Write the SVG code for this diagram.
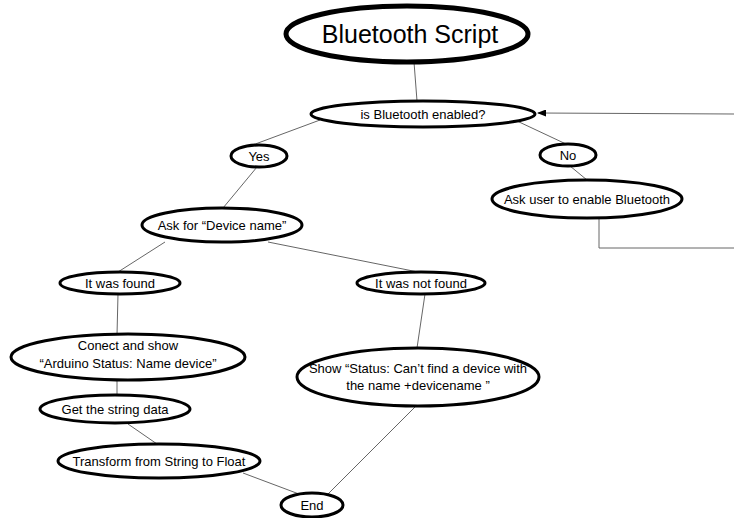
<svg xmlns="http://www.w3.org/2000/svg" width="734" height="518" viewBox="0 0 734 518">
<style>
.n{fill:#fff;stroke:#000;stroke-width:3}
.t{font-family:"Liberation Sans",Arial,sans-serif;font-size:13px;fill:#000;text-anchor:middle}
.c{stroke:#666;stroke-width:1;fill:none}
</style>
<defs>
<marker id="ah" markerWidth="9" markerHeight="7" refX="8" refY="3.5" orient="auto" markerUnits="userSpaceOnUse">
<path d="M0,0 L9,3.5 L0,7 z" fill="#000"/>
</marker>
</defs>
<rect width="734" height="518" fill="#fff"/>
<g id="connectors">
<line class="c" x1="414" y1="62" x2="417" y2="101"/>
<line class="c" x1="320" y1="120" x2="250" y2="146"/>
<line class="c" x1="517" y1="121" x2="566" y2="144"/>
<line class="c" x1="570" y1="166" x2="587" y2="180"/>
<polyline class="c" points="599,218 599,248 734,248"/>
<line class="c" x1="734" y1="114" x2="538" y2="113" marker-end="url(#ah)"/>
<line class="c" x1="257" y1="167" x2="223" y2="208"/>
<line class="c" x1="165" y1="242" x2="118" y2="272"/>
<line class="c" x1="268" y1="242" x2="418" y2="272"/>
<line class="c" x1="118" y1="294" x2="117" y2="335"/>
<line class="c" x1="425" y1="294" x2="417" y2="348"/>
<line class="c" x1="117" y1="380" x2="117" y2="396"/>
<line class="c" x1="128" y1="424" x2="157" y2="444"/>
<line class="c" x1="243" y1="473" x2="299" y2="494"/>
<line class="c" x1="416" y1="406" x2="328" y2="494"/>
</g>
<g id="title">
<ellipse cx="407" cy="34" rx="121" ry="28" fill="#fff" stroke="#000" stroke-width="5"/>
<text x="410" y="43" font-family="Liberation Sans,Arial,sans-serif" font-size="25" text-anchor="middle">Bluetooth Script</text>
</g>
<g id="bt-enabled">
<ellipse class="n" cx="423" cy="114" rx="112" ry="13"/>
<text class="t" x="423" y="119">is Bluetooth enabled?</text>
</g>
<g id="yes">
<ellipse class="n" cx="259" cy="156" rx="28" ry="11"/>
<text class="t" x="259" y="161">Yes</text>
</g>
<g id="no">
<ellipse class="n" cx="568" cy="155" rx="28" ry="11"/>
<text class="t" x="568" y="160">No</text>
</g>
<g id="ask-user">
<ellipse class="n" cx="587" cy="199" rx="95" ry="19"/>
<text class="t" x="587" y="204">Ask user to enable Bluetooth</text>
</g>
<g id="ask-device">
<ellipse class="n" cx="222" cy="225" rx="80" ry="17"/>
<text class="t" x="222" y="230">Ask for “Device name”</text>
</g>
<g id="found">
<ellipse class="n" cx="120" cy="283" rx="60" ry="11"/>
<text class="t" x="120" y="288">It was found</text>
</g>
<g id="not-found">
<ellipse class="n" cx="421" cy="283" rx="64" ry="11"/>
<text class="t" x="421" y="288">It was not found</text>
</g>
<g id="connect">
<ellipse class="n" cx="128" cy="357" rx="117" ry="23"/>
<text class="t" x="128" y="350">Conect and show</text>
<text class="t" x="128" y="368">“Arduino Status: Name device”</text>
</g>
<g id="show-status">
<ellipse class="n" cx="418" cy="377" rx="121" ry="29"/>
<text class="t" x="418" y="373">Show “Status: Can’t find a device with</text>
<text class="t" x="418" y="390">the name +devicename ”</text>
</g>
<g id="get-string">
<ellipse class="n" cx="115" cy="409" rx="75" ry="14"/>
<text class="t" x="115" y="414">Get the string data</text>
</g>
<g id="transform">
<ellipse class="n" cx="159" cy="461" rx="101" ry="17"/>
<text class="t" x="159" y="466">Transform from String to Float</text>
</g>
<g id="end">
<ellipse class="n" cx="312" cy="505" rx="31" ry="12"/>
<text class="t" x="312" y="510">End</text>
</g>
</svg>
